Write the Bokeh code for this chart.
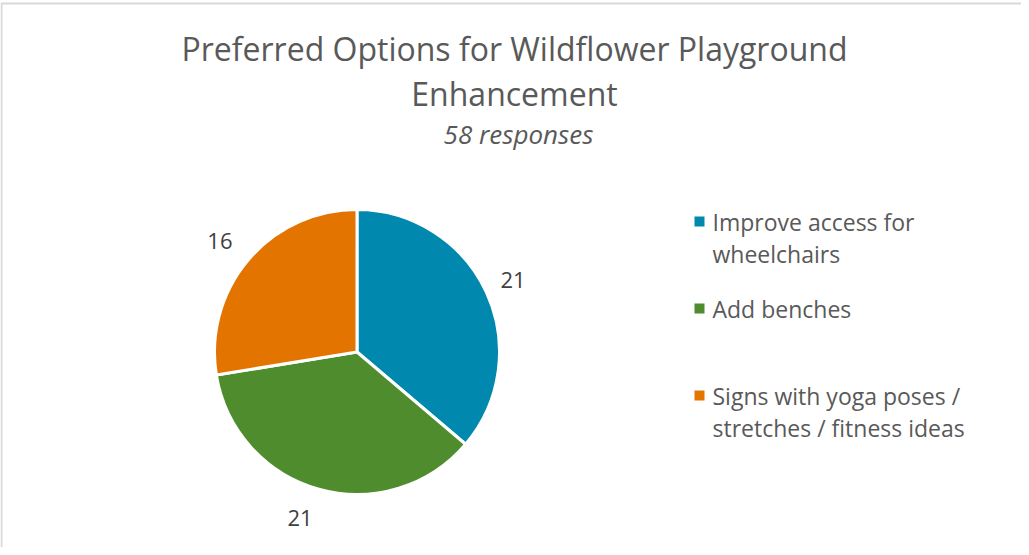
import math
import textwrap
from bokeh.plotting import figure
from bokeh.models import Range1d, ColumnDataSource
from bokeh.core.properties import value
from bokeh.embed import file_html
from bokeh.resources import INLINE

# ---- data ----
categories = [
    "Improve access for wheelchairs",
    "Add benches",
    "Signs with yoga poses / stretches / fitness ideas",
]
counts = [21, 21, 16]
colors = ["#0088ae", "#4e8c2e", "#e37400"]
title_lines = ["Preferred Options for Wildflower Playground", "Enhancement"]
subtitle = "58 responses"

# ---- layout ----
W, H = 1021, 547
FONT = "Open Sans"
label_nudge_x = [0, -11, -6]   # layout tweak for outside-end labels (px)


def X(px):
    return px - 8


def Y(py):
    return 555 - py


p = figure(width=W, height=H, x_range=Range1d(0, W), y_range=Range1d(0, H),
           output_backend="svg", toolbar_location=None, min_border=0)
p.axis.visible = False
p.grid.visible = False
p.outline_line_color = None
p.background_fill_color = "white"
p.border_fill_color = "white"

# chart border (left and top visible)
p.line(x=[X(9), X(9), W], y=[0, Y(11), Y(11)], line_color="#d9d9d9", line_width=2)

# ---- pie ----
cx, cy, R = X(364.5), Y(359.5), 142.5
total = sum(counts)
starts, ends, lx, ly = [], [], [], []
cum = 0
for c, nx in zip(counts, label_nudge_x):
    a0 = math.pi / 2 - 2 * math.pi * cum / total
    cum += c
    a1 = math.pi / 2 - 2 * math.pi * cum / total
    starts.append(a1)
    ends.append(a0)
    mid = (a0 + a1) / 2
    lx.append(cx + 172 * math.cos(mid) + nx)
    ly.append(cy + 172 * math.sin(mid))

src = ColumnDataSource(dict(start=starts, end=ends, color=colors,
                            lx=lx, ly=ly, lab=[str(c) for c in counts]))
p.wedge(x=cx, y=cy, radius=R, radius_units="screen", start_angle="start",
        end_angle="end", fill_color="color", line_color="white", line_width=3,
        source=src)
p.text(x="lx", y="ly", text="lab", source=src, text_font=value(FONT),
       text_font_size="22px", text_color="#404040", text_align="center",
       text_baseline="middle")

# ---- title ----
p.text(x=[X(522)] * 2, y=[Y(55.5), Y(100.5)], text=title_lines,
       text_font=value(FONT), text_font_size="32px", text_color="#595959",
       text_align="center", text_baseline="middle")
p.text(x=[X(526)], y=[Y(141.5)], text=[subtitle], text_font=value(FONT),
       text_font_style="italic", text_font_size="26px", text_color="#595959",
       text_align="center", text_baseline="middle")

# ---- legend ----
sq_x, sq_y, tx, ty = [], [], [], []
t_texts = []
for i, cat in enumerate(categories):
    yc = 229 + 87 * i
    sq_x.append(X(707))
    sq_y.append(Y(yc))
    for j, line in enumerate(textwrap.wrap(cat, 25)):
        tx.append(X(720))
        ty.append(Y(yc + 32 * j))
        t_texts.append(line)

p.scatter(x=sq_x, y=sq_y, marker="square", size=10, fill_color=colors,
          line_color=None)
p.text(x=tx, y=ty, text=t_texts, text_font=value(FONT), text_font_size="23px",
       text_color="#595959", text_align="left", text_baseline="middle")

open("out.html", "w").write(file_html(p, INLINE))
